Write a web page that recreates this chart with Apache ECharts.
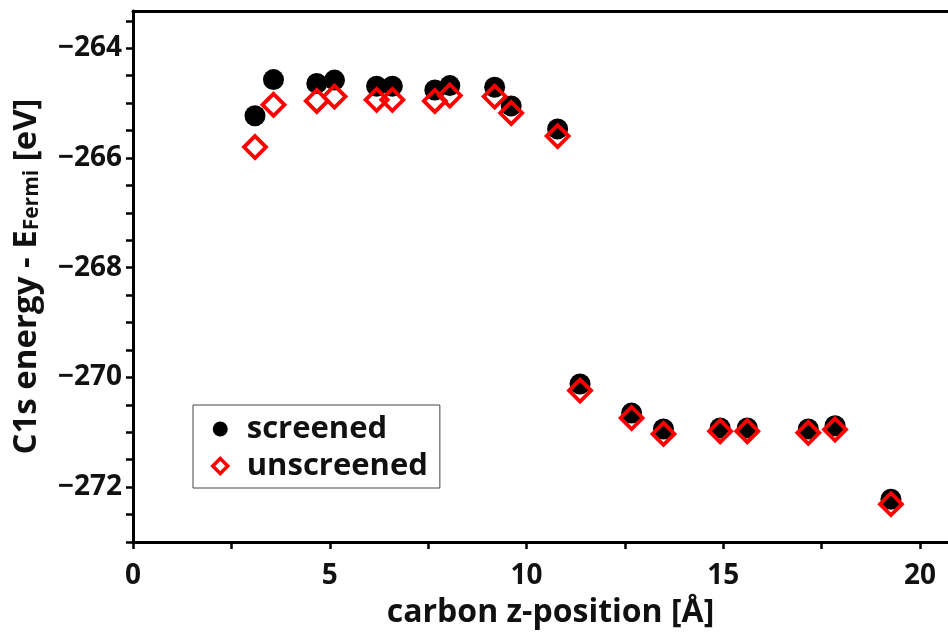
<!DOCTYPE html>
<html>
<head>
<meta charset="utf-8">
<script src="https://cdn.jsdelivr.net/npm/echarts@6/dist/echarts.min.js"></script>
<style>
  html, body { margin: 0; padding: 0; background: #fff; }
  #chart { width: 948px; height: 634px; }
</style>
</head>
<body>
<div id="chart"></div>
<script>
// carbon z-position [Å]
var zPos = [3.10, 3.57, 4.67, 5.12, 6.19, 6.59, 7.67, 8.05, 9.19, 9.61, 10.79,
            11.36, 12.67, 13.48, 14.92, 15.61, 17.16, 17.84, 19.26];
// C1s energy - E_Fermi [eV]
var screened = [-265.23, -264.57, -264.64, -264.58, -264.69, -264.69, -264.76, -264.68, -264.71, -265.05, -265.47,
                -270.12, -270.65, -270.94, -270.92, -270.92, -270.94, -270.88, -272.22];
var unscreened = [-265.80, -265.03, -264.96, -264.88, -264.94, -264.94, -264.96, -264.86, -264.88, -265.18, -265.60,
                  -270.24, -270.74, -271.03, -270.98, -270.98, -271.01, -270.95, -272.31];

var xLabels = [0, 5, 10, 15, 20];
var yLabels = [-272, -270, -268, -266, -264];

var xTicks = [];
for (var i = 0; i <= 8; i++) xTicks.push(i * 2.5);
var yTicks = [];
for (var j = 0; j <= 19; j++) yTicks.push(-273 + j * 0.5);

function pairs(xs, ys) {
  return xs.map(function (x, k) { return [x, ys[k]]; });
}

var font = "Open Sans";
var chart = echarts.init(document.getElementById("chart"));

var option = {
  animation: false,
  textStyle: { fontFamily: font },
  grid: { left: 133, right: 0, top: 11, bottom: 91 },
  legend: {
    orient: "vertical",
    left: 193,
    top: 405,
    padding: [8, 12, 6, 18],
    itemWidth: 15,
    itemHeight: 15,
    itemGap: 5,
    borderColor: "#444",
    borderWidth: 1,
    textStyle: { fontFamily: font, fontWeight: "bold", fontSize: 31, color: "#111", lineHeight: 32, padding: [0, 0, 0, 14] },
    data: [
      { name: "screened", icon: "circle", itemStyle: { color: "#000", borderWidth: 0 } },
      { name: "unscreened", icon: "diamond", itemStyle: { color: "#fff", borderColor: "#ff0000", borderWidth: 3.5 } }
    ]
  },
  xAxis: [
    {
      type: "value",
      min: 0,
      max: 20.71,
      name: "carbon z-position [Å]",
      nameLocation: "middle",
      nameGap: 55,
      nameTextStyle: { fontFamily: font, fontWeight: "bold", fontSize: 32, color: "#111", padding: [0, 0, 0, 20] },
      axisLine: { lineStyle: { color: "#000", width: 3 } },
      axisTick: { customValues: xTicks, length: 7, lineStyle: { color: "#000", width: 2.5 } },
      axisLabel: {
        customValues: xLabels,
        margin: 20,
        fontFamily: font, fontWeight: "bold", fontSize: 28, color: "#111"
      },
      splitLine: { show: false }
    },
    {
      type: "value",
      position: "top",
      min: 0,
      max: 20.71,
      axisLine: { show: true, lineStyle: { color: "#000", width: 3 } },
      axisTick: { show: false },
      axisLabel: { show: false },
      splitLine: { show: false }
    }
  ],
  yAxis: {
    type: "value",
    min: -273,
    max: -263.32,
    name: "C1s energy - E{sub|Fermi} [eV]",
    nameLocation: "middle",
    nameGap: 90,
    nameRotate: 90,
    nameTextStyle: {
      fontFamily: font, fontWeight: "bold", fontSize: 33, color: "#111",
      rich: {
        sub: { fontFamily: font, fontWeight: "bold", fontSize: 21, color: "#111", verticalAlign: "bottom", padding: [12, 0, 0, 0] }
      }
    },
    axisLine: { show: true, lineStyle: { color: "#000", width: 3 } },
    axisTick: { customValues: yTicks, length: 7, lineStyle: { color: "#000", width: 2.5 } },
    axisLabel: {
      customValues: yLabels,
      margin: 11,
      fontFamily: font, fontWeight: "bold", fontSize: 28, color: "#111",
      formatter: function (v) { return "\u2212" + Math.abs(v); }
    },
    splitLine: { show: false }
  },
  series: [
    {
      name: "screened",
      type: "scatter",
      symbol: "circle",
      symbolSize: 21,
      itemStyle: { color: "#000", opacity: 1 },
      data: pairs(zPos, screened),
      z: 2
    },
    {
      name: "unscreened",
      type: "scatter",
      symbol: "diamond",
      symbolSize: 22,
      itemStyle: { color: "transparent", borderColor: "#ff0000", borderWidth: 3.8, opacity: 1 },
      data: pairs(zPos, unscreened),
      z: 3
    }
  ]
};

chart.setOption(option);
</script>
</body>
</html>
